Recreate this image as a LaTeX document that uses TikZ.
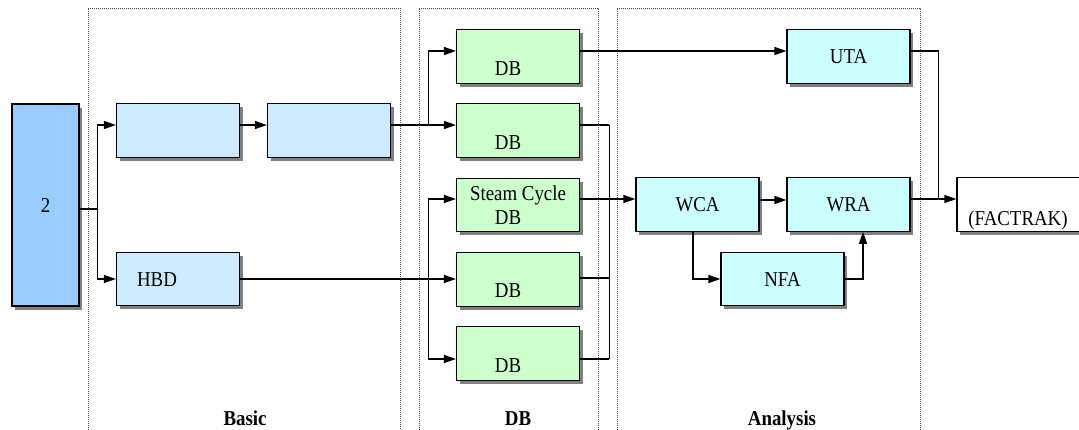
\documentclass[tikz,border=0pt]{standalone}
\usepackage{fontspec}
\setmainfont{Liberation Serif}[FakeStretch=0.89]
\usetikzlibrary{arrows.meta,shadows,calc}
\definecolor{cTwo}{RGB}{153,204,255}
\definecolor{cBasic}{RGB}{204,235,255}
\definecolor{cDB}{RGB}{204,255,204}
\definecolor{cAna}{RGB}{204,255,255}
\definecolor{cShadow}{RGB}{128,128,128}
\definecolor{cPanel}{RGB}{70,70,70}
\tikzset{
 box/.style={draw=black, line width=0.6pt, minimum width=61.5pt, minimum height=26.75pt, inner sep=0pt,
   font=\fontsize{10.6}{12.5}\selectfont,
   drop shadow={shadow xshift=1.6pt, shadow yshift=-1.8pt, opacity=1, fill=cShadow}},
 basicbox/.style={box, fill=cBasic},
 dbbox/.style={box, fill=cDB},
 anabox/.style={box, fill=cAna},
 txt/.style={anchor=base, inner sep=0pt, font=\fontsize{10.6}{12.5}\selectfont},
 paneltitle/.style={anchor=base, inner sep=0pt, font=\fontsize{10.6}{12.5}\selectfont\bfseries},
 conn/.style={line width=0.6pt},
 arr/.style={conn, -{Triangle[length=6pt,width=4pt]}},
 panel/.style={draw=cPanel, dash pattern=on 0.5pt off 0.5pt, line width=0.5pt},
}
\begin{document}
\begin{tikzpicture}[x=0.5pt,y=-0.5pt]
\useasboundingbox (0,0) rectangle (1079,429);
% panels
\draw[panel] (88,440) -- (88,8) -- (400,8) -- (400,440);
\draw[panel] (419,440) -- (419,8) -- (598,8) -- (598,440);
\draw[panel] (617,440) -- (617,8) -- (920,8) -- (920,440);
\node[paneltitle] (tBasic) at (245,425) {Basic};
\node[paneltitle] (tDB) at (518,425) {DB};
\node[paneltitle] (tAna) at (782,425) {Analysis};
% boxes
\node[box, fill=cTwo, minimum width=33.5pt, minimum height=101pt] (two) at (45.5,205) {2};
\node[basicbox] (a) at (178,130.5) {};
\node[basicbox] (b) at (329,130.5) {};
\node[basicbox] (hbd) at (178,279) {};
\node[txt] (thbd) at (157,286) {HBD};
\node[dbbox] (db1) at (518,56.5) {};
\node[txt] (tdb1) at (508,75) {DB};
\node[dbbox] (db2) at (518,130.5) {};
\node[txt] (tdb2) at (508,149) {DB};
\node[dbbox] (steam) at (518,205) {};
\node[txt] (tsteam) at (518,200.5) {Steam Cycle};
\node[txt] (tsteamdb) at (508,224.5) {DB};
\node[dbbox] (db4) at (518,279.5) {};
\node[txt] (tdb4) at (508,297) {DB};
\node[dbbox] (db5) at (518,353.5) {};
\node[txt] (tdb5) at (508,372) {DB};
\node[anabox] (uta) at (848.5,56.5) {UTA};
\node[anabox] (wca) at (697.5,204.5) {WCA};
\node[anabox] (wra) at (848.5,204.5) {WRA};
\node[anabox] (nfa) at (782.5,279) {NFA};
\node[box, fill=white, minimum width=64pt] (fact) at (1021,204.5) {};
\node[txt] (tfact) at (1018,225) {(FACTRAK)};
% connectors
\draw[conn] ([yshift=-2pt]two.east) -- ++(18,0) coordinate (j1);
\draw[arr] (j1) |- ([yshift=2.75pt]a.west);
\draw[arr] (j1) |- (hbd.west);
\draw[arr] ([yshift=2.75pt]a.east) -- ([yshift=2.75pt]b.west);
\draw[conn] ([yshift=2.75pt]b.east) -- ++(37,0) coordinate (j2);
\draw[arr] (j2) |- ([yshift=2.75pt]db1.west);
\draw[arr] (j2) -- ([yshift=2.75pt]db2.west);
\draw[conn] (hbd.east) -- (hbd.east -| j2) coordinate (j3);
\draw[arr] (j3) |- ([yshift=3pt]steam.west);
\draw[arr] (j3) -- (j3 -| db4.west);
\draw[arr] (j3) |- ([yshift=-2.75pt]db5.west);
\draw[arr] ([yshift=2.75pt]db1.east) -- ([yshift=2.75pt]uta.west);
\draw[arr] ([yshift=3pt]steam.east) coordinate (se) -- (se -| wca.west);
\draw[conn] ([yshift=2.75pt]db2.east) -- ++(29,0) coordinate (k1);
\draw[conn] ([yshift=-2.75pt]db5.east) -- ++(29,0) coordinate (k2);
\draw[conn] (k1) -- (k2);
\draw[conn] ([yshift=0.75pt]db4.east) coordinate (d4e) -- (d4e -| k1);
\draw[arr] ([yshift=2.25pt]wca.east) -- ([yshift=2.25pt]wra.west);
\draw[arr] ([xshift=-2.25pt]wca.south) |- (nfa.west);
\draw[arr] (nfa.east) -| ([xshift=7.25pt]wra.south);
\coordinate (fa) at ([yshift=2.75pt]fact.west);
\draw[arr] ([yshift=2.75pt]wra.east) -- (fa);
\draw[conn] ([yshift=2.75pt]uta.east) -- ++(28,0) coordinate (m1);
\draw[conn] (m1) -- (m1 |- fa);
\end{tikzpicture}
\end{document}
